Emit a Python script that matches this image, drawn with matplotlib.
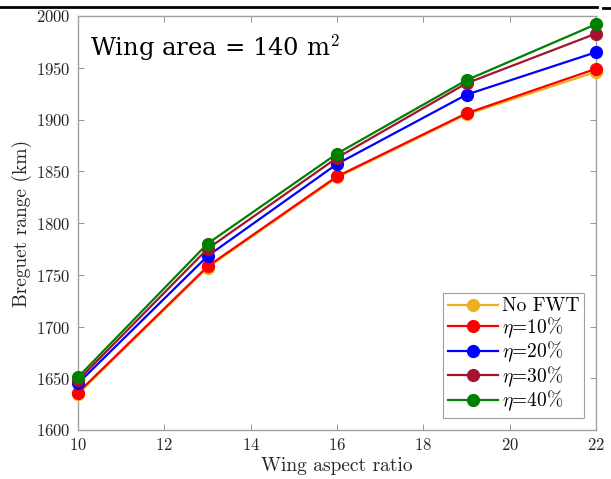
import matplotlib
matplotlib.use("Agg")
import matplotlib.pyplot as plt
from matplotlib.lines import Line2D

plt.rcParams['mathtext.fontset'] = 'cm'
plt.rcParams['font.family'] = ['cmr10', 'DejaVu Serif']
plt.rcParams['axes.formatter.use_mathtext'] = True

aspect_ratio = [10, 13, 16, 19, 22]
no_fwt = [1635, 1757, 1844, 1905, 1946]
eta10 = [1636, 1758, 1845, 1906, 1949]
eta20 = [1645, 1768, 1857, 1924, 1965]
eta30 = [1648, 1775, 1863, 1935, 1983]
eta40 = [1651, 1780, 1867, 1938, 1992]

series = [
    ("No FWT", no_fwt, "#EDB120"),
    (r"$\eta$=10%", eta10, "#FF0000"),
    (r"$\eta$=20%", eta20, "#0000FF"),
    (r"$\eta$=30%", eta30, "#A2142F"),
    (r"$\eta$=40%", eta40, "#008000"),
]

fig = plt.figure(figsize=(6.11, 4.79), dpi=100)
ax = fig.add_axes([78/611, 49/479, 518/611, 414/479])

for label, vals, col in series:
    ax.plot(aspect_ratio, vals, '-o', color=col, lw=1.6, ms=8.5, label=label,
            clip_on=False, zorder=3)

ax.set_xlim(10, 22)
ax.set_ylim(1600, 2000)
ax.set_xticks([10, 12, 14, 16, 18, 20, 22])
ax.set_yticks([1600, 1650, 1700, 1750, 1800, 1850, 1900, 1950, 2000])
ax.tick_params(direction='in', top=True, right=True, colors='#262626',
               labelsize=12, length=4, width=0.6, pad=5)
ax.tick_params(axis='both', color='#888888')
for sp in ax.spines.values():
    sp.set_color('#A0A0A0')
    sp.set_linewidth(1.0)

ax.set_xlabel("Wing aspect ratio", fontsize=14, color='#262626', labelpad=3)
ax.set_ylabel("Breguet range (km)", fontsize=14, color='#262626', labelpad=3)

ax.text(0.023, 0.923, r"Wing area = 140 m$^2$", transform=ax.transAxes,
        fontsize=17.5, family=['DejaVu Serif'], va='center', ha='left', color='black')

leg = ax.legend(loc='lower right', fontsize=14, frameon=True, fancybox=False,
                edgecolor='#888888', borderpad=0.25, handlelength=2.6,
                handletextpad=0.2, labelspacing=0.0, borderaxespad=0.6)
leg.get_frame().set_linewidth(0.8)
leg.set_zorder(5)

# screenshot top rule
fig.add_artist(Line2D([0, 597/611], [1 - 7/479, 1 - 7/479], color='black', lw=2,
                      transform=fig.transFigure))
fig.add_artist(Line2D([603/611, 1], [1 - 8/479, 1 - 8/479], color='black', lw=2,
                      transform=fig.transFigure))

fig.savefig("out.png", dpi=100, facecolor='white')
